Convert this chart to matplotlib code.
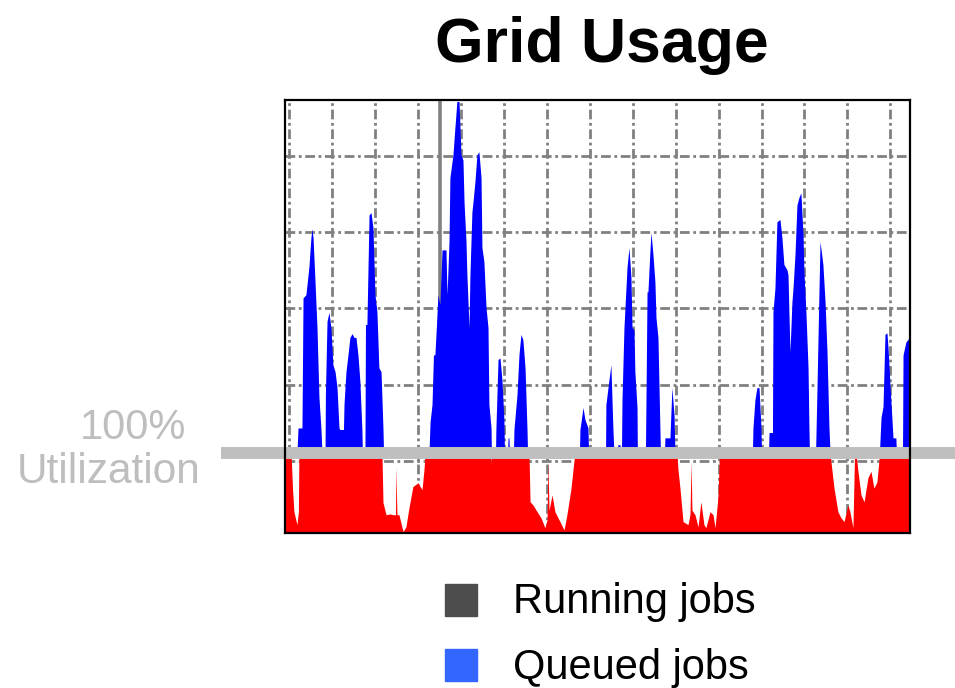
import numpy as np
import matplotlib
matplotlib.use('Agg')
import matplotlib.pyplot as plt
from matplotlib.patches import Rectangle

plt.rcParams['font.family'] = ['Liberation Sans', 'DejaVu Sans']

# Charge de la grille (en %), temps en heures depuis le debut de la fenetre
capacite = 110

t_running = [-2.4, 1.0, 1.8, 2.6, 4.3, 5.1, 5.4,
             51.8, 52.4, 54.1, 56.3, 58.0, 59.4, 59.6, 60.2, 61.3, 63.6, 65.2,
             66.9, 69.1, 71.9, 74.2, 75.3, 75.9,
             112.5, 112.8, 113.0,
             134.0, 134.6, 136.2, 138.5, 140.7, 142.9, 144.1, 144.6, 145.2,
             146.9, 148.5, 151.3, 153.6, 155.2, 157.5, 159.1, 159.7,
             216.7, 217.3, 218.4, 220.1, 222.9, 224.0, 224.6, 225.1, 226.8,
             228.5, 230.1, 231.8, 232.9, 235.2, 236.9, 238.0, 239.6, 240.5,
             302.3, 302.8, 304.5, 306.7, 308.4, 310.1, 312.3, 313.4, 315.1,
             316.0, 316.8, 317.9, 319.6, 321.3, 323.5, 325.2, 326.8, 328.5,
             330.0, 347.0]
running = [110, 110, 64, 33, 16, 33, 110,
           110, 45, 29, 30, 29, 29, 92, 29, 29, 7, 13,
           38, 66, 71, 62, 88, 110,
           110, 95, 110,
           110, 46, 42, 33, 25, 12, 22, 99, 35,
           55, 33, 20, 9, 29, 64, 99, 110,
           110, 88, 64, 20, 16, 29, 99, 35, 29,
           13, 46, 16, 12, 33, 29, 12, 51, 110,
           110, 99, 64, 33, 25, 20, 42, 33, 12,
           110, 110, 86, 55, 46, 78, 86, 64, 72,
           110, 110]

t_queued = [-2.4, 4.3, 4.9, 7.1, 7.7, 9.3, 9.9, 11.0, 12.1, 12.7, 13.3, 14.4,
            15.5, 16.6, 17.7, 18.3,
            20.0, 20.2, 21.1, 22.2, 23.3, 24.4, 25.6, 26.7, 27.8, 28.3, 30.3,
            30.6, 31.7, 32.8, 33.9, 35.1, 36.2, 37.3, 38.4, 39.5, 40.6, 40.9,
            42.3, 42.6, 43.4, 44.6, 45.7, 46.8, 47.9, 49.0, 50.1, 51.3, 52.4,
            52.7,
            78.1, 78.7, 79.8, 80.6, 81.4, 82.3, 83.1, 84.2, 85.4, 87.6, 88.2,
            89.3, 89.8, 91.5, 92.6, 93.7, 94.9, 96.0, 97.1, 97.7, 98.8, 99.3,
            100.5, 101.0, 102.1, 102.7, 103.8, 104.9, 106.0, 107.2, 107.7,
            108.8, 110.0, 111.1, 111.6, 112.8, 113.0,
            115.3, 115.5, 116.7, 117.8, 118.9, 120.0, 120.3,
            122.0, 122.3, 122.8, 123.1,
            125.3, 125.6, 127.3, 128.4, 129.5, 130.6, 131.8, 132.9, 133.2,
            162.2, 162.5, 164.2, 165.3, 167.0, 167.3,
            176.8, 177.0, 178.7, 179.8, 180.9, 181.5,
            183.5, 183.7, 184.9, 185.1,
            185.7, 186.0, 187.1, 188.8, 189.9, 191.0, 191.6, 192.7, 193.2,
            194.4, 194.6,
            199.1, 199.4, 200.0, 200.5, 201.6, 202.2, 203.3, 204.4, 205.0,
            206.1, 207.2, 207.5,
            209.7, 210.0, 212.8, 213.9, 215.1, 215.6,
            258.9, 259.2, 260.3, 261.4, 262.6, 263.7, 264.0,
            267.9, 268.2, 270.1, 270.4, 271.5, 272.6, 274.3, 275.4, 276.5,
            278.2, 278.8, 279.3, 279.9, 281.0, 281.6, 282.7, 283.8, 284.9,
            286.0, 287.2, 287.7, 288.8, 290.0, 290.5, 290.8,
            294.2, 295.0, 296.1, 296.7, 298.3, 299.5, 300.6, 301.7, 302.3,
            329.9, 330.8, 331.9, 333.0, 334.1, 334.7, 335.8, 337.5, 339.1,
            339.4,
            342.8, 343.1, 344.7, 346.4, 347.0]
queued = [0, 0, 33, 33, 204, 208, 221, 245, 283, 295, 283, 225,
          165, 73, 33, 0,
          0, 77, 173, 185, 165, 116, 107, 86, 33, 31, 31,
          64, 107, 129, 152, 157, 152, 152, 129, 94, 31, 0,
          0, 169, 169, 313, 316, 296, 208, 186, 112, 107, 31,
          0,
          0, 41, 64, 129, 129, 169, 208, 195, 267, 267, 208,
          278, 362, 392, 428, 462, 462, 392, 385, 330, 278, 234,
          165, 234, 317, 330, 357, 392, 396, 362, 270,
          252, 191, 165, 64, 33, 0,
          0, 31, 123, 125, 96, 44, 0,
          0, 20, 20, 0,
          0, 31, 77, 129, 156, 149, 112, 31, 0,
          0, 31, 60, 44, 33, 0,
          0, 64, 96, 116, 33, 0,
          0, 11, 11, 0,
          0, 70, 165, 244, 270, 231, 165, 162, 107,
          60, 0,
          0, 70, 212, 212, 265, 290, 261, 225, 178,
          152, 31, 0,
          0, 20, 20, 86, 50, 0,
          0, 33, 70, 86, 86, 33, 0,
          0, 27, 27, 186, 217, 304, 307, 283, 248,
          241, 234, 186, 133, 199, 217, 261, 326, 336,
          342, 287, 238, 186, 112, 33, 0,
          0, 86, 212, 278, 248, 199, 133, 33, 0,
          0, 47, 61, 156, 158, 139, 90, 20, 20,
          0,
          0, 129, 146, 151, 151]

jours = np.arange(0, 337, 24)
niveaux = [100, 200, 300, 400, 500]
maintenant = 84

fig = plt.figure(figsize=(9.55, 6.88), dpi=100)
ax = fig.add_axes([0.2984, 0.2253, 0.6545, 0.6294])

t_running = np.array(t_running)
running = np.array(running)
t_queued = np.array(t_queued)
queued = np.array(queued)

# grille en pointilles
motif = (0, (3.5, 1.3, 1, 1.3))
for j in jours:
    ax.axvline(j, color='#808080', lw=2.0, ls=motif, zorder=1)
for n in niveaux:
    ax.axhline(n, color='#808080', lw=2.0, ls=motif, zorder=1)
ax.axvline(maintenant, color='#808080', lw=2.6, zorder=1)

ax.fill_between(t_running, 0, running, color='#ff0000', lw=0, zorder=2)
ax.fill_between(t_queued, capacite, capacite + queued, color='#0000ff', lw=0, zorder=3)

# ligne des 100 %
ax.axhline(capacite, xmin=-0.1024, xmax=1.072, color='#bfbfbf', lw=8.6,
           solid_capstyle='butt', clip_on=False, zorder=5)

ax.set_xlim(-2.4, 347.0)
ax.set_ylim(5, 574)
ax.set_xticks([])
ax.set_yticks([])
for s in ax.spines.values():
    s.set_linewidth(1.6)
    s.set_color('black')
    s.set_zorder(6)

fig.text(601.5 / 955, 1 - 62 / 688, 'Grid Usage', ha='center', va='baseline',
         fontsize=45, fontweight='bold')
fig.text(133.5 / 955, 1 - 439 / 688, '100%', ha='center', va='baseline',
         fontsize=30, color='#bebebe')
fig.text(108.5 / 955, 1 - 483 / 688, 'Utilization', ha='center', va='baseline',
         fontsize=30.5, color='#bebebe')

# legende
fig.add_artist(Rectangle((445 / 955, 1 - 616 / 688), 32 / 955, 32 / 688,
                         color='#4d4d4d', transform=fig.transFigure))
fig.add_artist(Rectangle((445 / 955, 1 - 681 / 688), 32 / 955, 32 / 688,
                         color='#3366ff', transform=fig.transFigure))
fig.text(513 / 955, 1 - 613 / 688, 'Running jobs', va='baseline', fontsize=30)
fig.text(513 / 955, 1 - 679 / 688, 'Queued jobs', va='baseline', fontsize=30)

fig.savefig('out.png', dpi=100)
